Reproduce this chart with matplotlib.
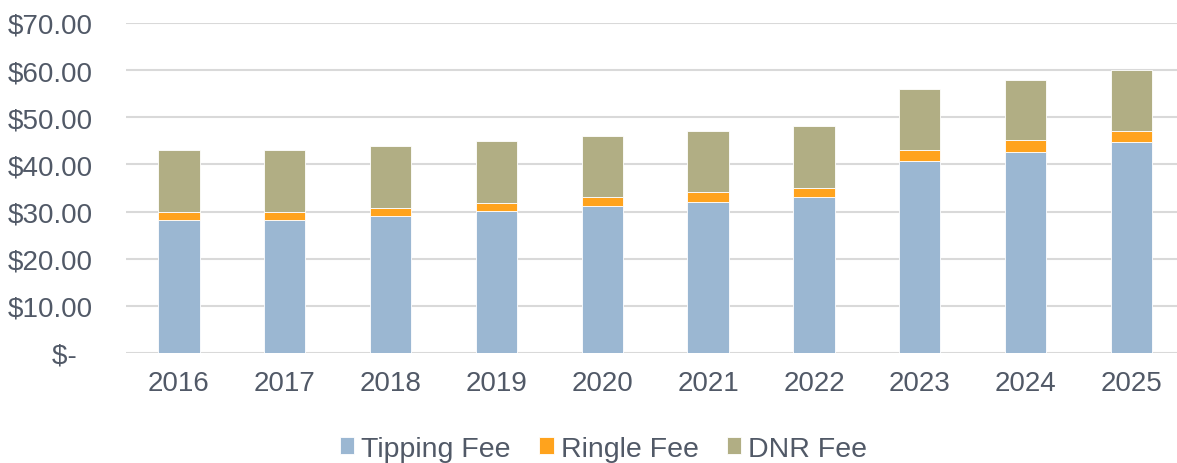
import matplotlib.pyplot as plt
import numpy as np

years = ['2016', '2017', '2018', '2019', '2020', '2021', '2022', '2023', '2024', '2025']
tipping_fee = [28.2, 28.2, 29.1, 30.1, 31.1, 32.1, 33.1, 40.7, 42.7, 44.7]
ringle_fee = [1.7, 1.7, 1.7, 1.7, 1.9, 2.0, 2.0, 2.3, 2.4, 2.4]
dnr_fee = [13.1, 13.1, 13.2, 13.2, 13.0, 12.9, 13.0, 13.0, 12.9, 12.9]
y_ticks = [0, 10, 20, 30, 40, 50, 60, 70]
y_labels = ['$-  ', '$10.00', '$20.00', '$30.00', '$40.00', '$50.00', '$60.00', '$70.00']

TEXT = '#515967'
COLORS = {'Tipping Fee': '#9BB7D2', 'Ringle Fee': '#FFA31D', 'DNR Fee': '#B1AE84'}

plt.rcParams.update({
    'font.family': ['Liberation Sans', 'DejaVu Sans'],
    'font.size': 20,
    'text.color': TEXT,
    'xtick.color': TEXT,
    'ytick.color': TEXT,
})

fig = plt.figure(figsize=(11.77, 4.64), dpi=100)
ax = fig.add_axes([126 / 1177, 110 / 464, 1 - 126 / 1177, 330 / 464])

x = np.arange(len(years))
tip = np.array(tipping_fee)
rin = np.array(ringle_fee)
dnr = np.array(dnr_fee)
w = 0.39

ax.bar(x, tip, w, color=COLORS['Tipping Fee'], label='Tipping Fee', zorder=3,
       edgecolor='white', linewidth=0.6)
ax.bar(x, rin, w, bottom=tip, color=COLORS['Ringle Fee'], label='Ringle Fee', zorder=3,
       edgecolor='white', linewidth=0.6)
ax.bar(x, dnr, w, bottom=tip + rin, color=COLORS['DNR Fee'], label='DNR Fee', zorder=3,
       edgecolor='white', linewidth=0.6)

ax.set_ylim(0, 70)
ax.set_xlim(-0.5, 9.43)
ax.set_yticks(y_ticks)
ax.set_yticklabels(y_labels)
ax.set_xticks(x)
ax.set_xticklabels(years)
ax.tick_params(axis='both', length=0, labelsize=20)
ax.tick_params(axis='y', pad=24)
ax.tick_params(axis='x', pad=12)
ax.yaxis.grid(True, color='#D9D9D9', linewidth=1.5, zorder=0)
ax.set_axisbelow(True)
for s in ax.spines.values():
    s.set_visible(False)

fig.legend(loc='center', bbox_to_anchor=(0.513, 0.031), ncol=3, frameon=False,
           handlelength=0.5, handleheight=0.5, handletextpad=0.25,
           columnspacing=1.0, fontsize=20.5)

fig.savefig('out.png', dpi=100)
